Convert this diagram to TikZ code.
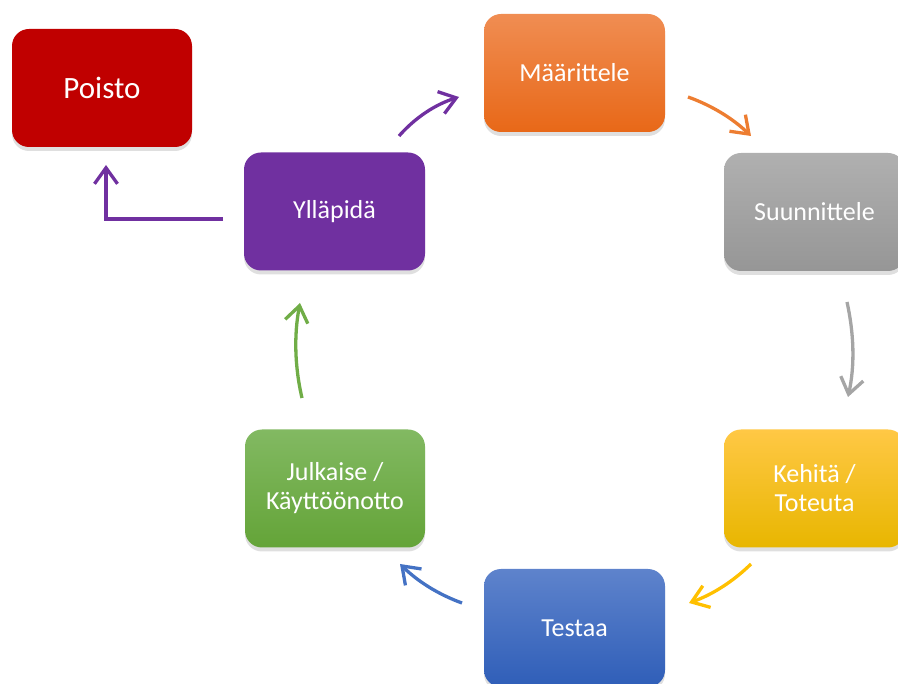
\documentclass[tikz,border=0pt]{standalone}
\usepackage{fontspec}
\setmainfont{Carlito}
\usetikzlibrary{arrows.meta,shadows}

\definecolor{pRed}{HTML}{C00000}
\definecolor{pPurple}{HTML}{7030A0}
\definecolor{pOrange}{HTML}{ED7D31}
\definecolor{pOrangeT}{HTML}{F08D52}
\definecolor{pOrangeB}{HTML}{E86818}
\definecolor{pGray}{HTML}{A5A5A5}
\definecolor{pGrayT}{HTML}{B0B0B0}
\definecolor{pGrayB}{HTML}{969696}
\definecolor{pGold}{HTML}{FFC000}
\definecolor{pGoldT}{HTML}{FFC845}
\definecolor{pGoldB}{HTML}{E8B600}
\definecolor{pBlue}{HTML}{4472C4}
\definecolor{pBlueT}{HTML}{5E83CC}
\definecolor{pBlueB}{HTML}{2F5EB8}
\definecolor{pGreen}{HTML}{70AD47}
\definecolor{pGreenT}{HTML}{82B962}
\definecolor{pGreenB}{HTML}{64A438}

\tikzset{
  phase/.style={rounded corners=17pt, minimum width=181pt, minimum height=118pt,
    inner sep=0pt, text=white, align=center,
    font=\fontsize{26}{29}\selectfont,
    drop shadow={opacity=0.25, shadow xshift=0pt, shadow yshift=-4pt}},
  flow/.style={line width=3.3pt,
    -{Straight Barb[length=16pt,width=23pt]}},
}

\begin{document}
\begin{tikzpicture}[x=1pt,y=-1pt]
\useasboundingbox (0,0) rectangle (898,684);

% stages of the life cycle
\node[phase, fill=pRed, minimum width=180pt, font=\fontsize{31}{34}\selectfont] (poisto) at (102,88) {Poisto};
\node[phase, fill=pPurple] (yllapida) at (334.5,211.5) {Ylläpidä};
\node[phase, top color=pOrangeT, bottom color=pOrangeB] (maarittele) at (574.5,73) {Määrittele};
\node[phase, top color=pGrayT, bottom color=pGrayB] (suunnittele) at (814.5,212) {Suunnittele};
\node[phase, top color=pGoldT, bottom color=pGoldB] (kehita) at (814.5,488.5) {Kehitä /\\Toteuta};
\node[phase, top color=pBlueT, bottom color=pBlueB] (testaa) at (574.5,628) {Testaa};
\node[phase, top color=pGreenT, bottom color=pGreenB, minimum width=180pt] (julkaise) at (335,488.5) {Julkaise /\\Käyttöönotto};

% free ends of the arrows between the stages
\coordinate (yS) at (399,136);   \coordinate (yE) at (459,97);
\coordinate (mS) at (688,97);    \coordinate (mE) at (751,136);
\coordinate (sS) at (847,302);   \coordinate (sE) at (848,397);
\coordinate (kS) at (751,564);   \coordinate (kE) at (689,603);
\coordinate (tS) at (462,603);   \coordinate (tE) at (400,564);
\coordinate (jS) at (302,398);   \coordinate (jE) at (300,303);
\coordinate (pS) at (223,219);   \coordinate (pE) at (106,165);

% arrows of the cycle
\draw[flow, pPurple] (yS) .. controls (415.4,117.4) and (435.4,104.4) .. (yE);
\draw[flow, pOrange] (mS) .. controls (711.8,105.5) and (732.8,118.5) .. (mE);
\draw[flow, pGray]   (sS) .. controls (854,334) and (855,365) .. (sE);
\draw[flow, pGold]   (kS) .. controls (733.1,581.5) and (712.5,594.5) .. (kE);
\draw[flow, pBlue]   (tS) .. controls (438.5,594.5) and (417.9,581.5) .. (tE);
\draw[flow, pGreen]  (jS) .. controls (294.6,366.3) and (294,334.7) .. (jE);

% exit to removal
\draw[flow, pPurple] (pS) -| (pE);
\end{tikzpicture}
\end{document}
